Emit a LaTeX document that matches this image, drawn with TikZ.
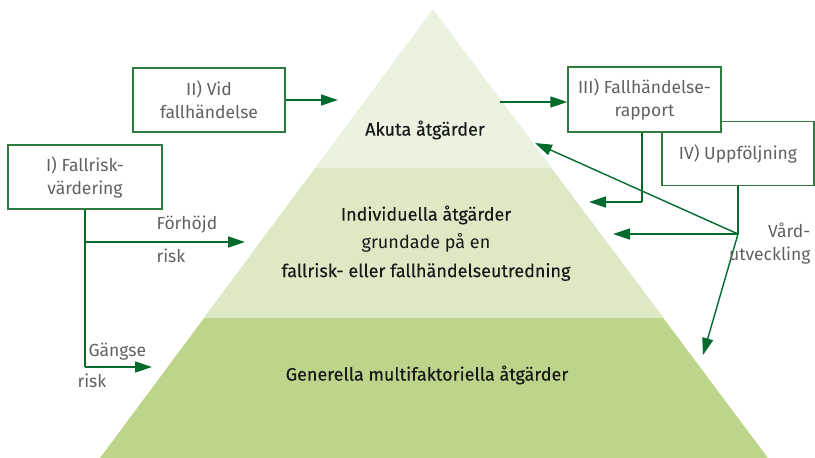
\documentclass[tikz,border=0pt]{standalone}
\usepackage{fontspec}
\setmainfont{Fira Sans}[BoldFont={Fira Sans}, BoldFeatures={FakeBold=0.25}]
\usetikzlibrary{arrows.meta,calc}
\definecolor{boxgreen}{HTML}{2F7A3E}
\definecolor{arrowgreen}{HTML}{006B2D}
\definecolor{tierone}{HTML}{EBF2E0}
\definecolor{tiertwo}{HTML}{DDE9C5}
\definecolor{tierthree}{HTML}{BDD58A}
\tikzset{
  stepbox/.style={draw=boxgreen, line width=1.4pt, fill=white, text=black!62, align=center,
    font=\fontsize{17.5}{23}\selectfont, minimum width=152pt, minimum height=64pt, inner sep=0pt},
  flow/.style={draw=arrowgreen, line width=1.4pt, -{Triangle[length=17pt,width=11pt]}},
  link/.style={draw=arrowgreen, line width=1.4pt},
  tiertext/.style={font=\fontsize{18}{22}\selectfont\bfseries, text=black!90},
  sidetext/.style={font=\fontsize{17.5}{23}\selectfont, text=black!62}
}
\begin{document}
\begin{tikzpicture}[x=1pt,y=-1pt]
    \useasboundingbox (0,0) rectangle (815,458);
    % pyramid
    \coordinate (top) at (433,10);
    \coordinate (bl) at (100,458);
    \coordinate (br) at (768,458);
    \fill[tierthree] (top) -- (bl) -- (br) -- cycle;
    \fill[tiertwo] (top) -- ($(top)!0.6875!(bl)$) -- ($(top)!0.6875!(br)$) -- cycle;
    \fill[tierone] (top) -- ($(top)!0.3527!(bl)$) -- ($(top)!0.3527!(br)$) -- cycle;

    \node[tiertext] (akuta) at (425,130) {Akuta åtgärder};
    \node[tiertext] (indiv) at (426,215) {Individuella åtgärder};
    \node[tiertext, font=\fontsize{18}{22}\selectfont] (grund) at (426,243) {grundade på en};
    \node[tiertext] (utred) at (426,272) {fallrisk- eller fallhändelseutredning};
    \node[tiertext] (gen) at (427,375) {Generella multifaktoriella åtgärder};

    % boxes
    \node[stepbox] (vid) at (209,100) {II) Vid\\fallhändelse};
    \node[stepbox, minimum width=154pt] (risk) at (85,177) {I) Fallrisk-\\värdering};
    \node[stepbox] (upp) at (738,153.5) {IV) Uppföljning};
    \node[stepbox, minimum width=153pt, minimum height=65pt] (rapport) at (644.5,99.5) {III) Fallhändelse-\\rapport};

    % left side
    \coordinate (hog) at (85,242);
    \coordinate (gan) at (85,367);
    \coordinate (hogend) at (245,242);
    \coordinate (ganend) at (152,367);
    \draw[link] (risk.south) -- (gan);
    \draw[flow] (hog) -- (hogend);
    \draw[flow] (gan) -- (ganend);
    \node[sidetext, anchor=west] (hogtxt) at (153,225) {Förhöjd};
    \node[sidetext, anchor=west] (hogrisk) at (153,256) {risk};
    \node[sidetext, anchor=west] (gantxt) at (85,352) {Gängse};
    \node[sidetext, anchor=west] (ganrisk) at (74,381) {risk};

    % top
    \coordinate (vidend) at (338,100);
    \coordinate (rapstart) at (500,102);
    \draw[flow] (vid.east |- vidend) -- (vidend);
    \draw[flow] (rapstart) -- (rapport.west |- rapstart);

    % right side
    \coordinate (rapknee) at (642,202);
    \coordinate (rapend) at (589,202);
    \draw[link] (rapport.south -| rapknee) -- (rapknee);
    \draw[flow] (rapknee) -- (rapend);
    \coordinate (vu) at (738,234);
    \coordinate (vuakuta) at (535,143);
    \coordinate (vuindiv) at (613,234);
    \coordinate (vugen) at (703,355);
    \draw[link] (upp.south) -- (vu);
    \draw[flow] (vu) -- (vuakuta);
    \draw[flow] (vu) -- (vuindiv);
    \draw[flow] (vu) -- (vugen);
    \node[sidetext, align=right, anchor=east] (vutxt) at (814,244) {Vård-\\utveckling};
\end{tikzpicture}
\end{document}
